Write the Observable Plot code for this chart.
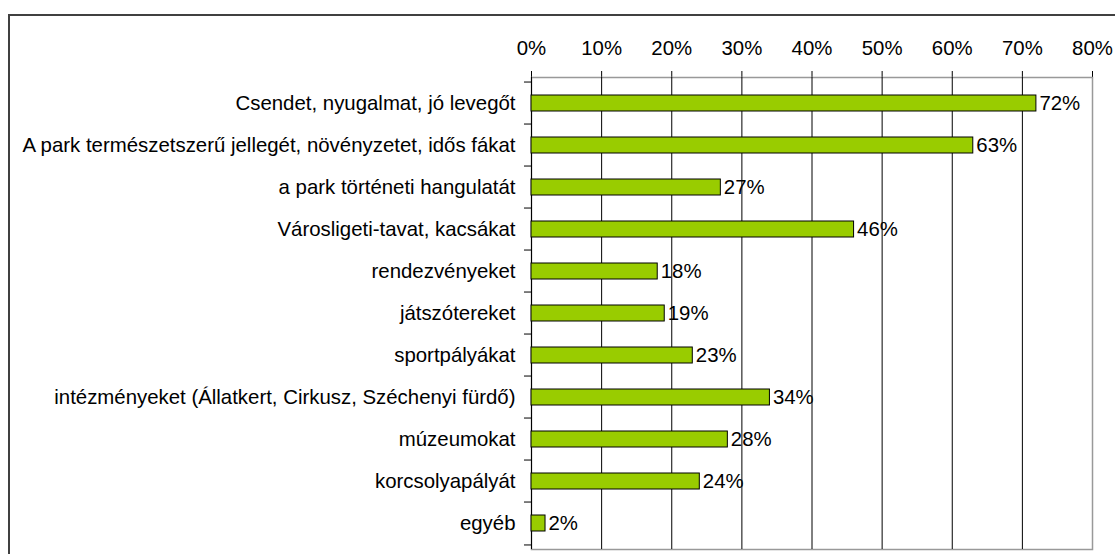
<!DOCTYPE html>
<html>
<head>
<meta charset="utf-8">
<script src="https://cdn.jsdelivr.net/npm/d3@7"></script>
<script src="https://cdn.jsdelivr.net/npm/@observablehq/plot@0.6"></script>
<style>
  html, body { margin: 0; padding: 0; background: #fff; overflow: hidden; width: 1115px; height: 554px; }
  #wrap { position: relative; width: 1115px; height: 554px; }
  #frame { position: absolute; left: 8px; top: 14px; width: 1200px; height: 700px;
           border-left: 2px solid #404040; border-top: 2px solid #404040; pointer-events: none; }
  #chart { position: absolute; left: 0; top: 0; }
  #chart svg text { font-size: 20.4px; }
</style>
</head>
<body>
<div id="wrap"><div id="frame"></div><div id="chart"></div></div>
<script>
const categories = [
  "Csendet, nyugalmat, jó levegőt",
  "A park természetszerű jellegét, növényzetet, idős fákat",
  "a park történeti hangulatát",
  "Városligeti-tavat, kacsákat",
  "rendezvényeket",
  "játszótereket",
  "sportpályákat",
  "intézményeket (Állatkert, Cirkusz, Széchenyi fürdő)",
  "múzeumokat",
  "korcsolyapályát",
  "egyéb"
];
const values = [72, 63, 27, 46, 18, 19, 23, 34, 28, 24, 2];
const xTicks = [0, 10, 20, 30, 40, 50, 60, 70, 80];
const gridTicks = [10, 20, 30, 40, 50, 60, 70];

const data = categories.map((c, i) => ({category: c, value: values[i]}));

const W = 1115, H = 554;
const mTop = 77, mBottom = 5, mLeft = 531, mRight = 23;
const step = (H - mTop - mBottom) / categories.length;

const chart = Plot.plot({
  width: W,
  height: H,
  marginTop: mTop,
  marginBottom: mBottom,
  marginLeft: mLeft,
  marginRight: mRight,
  style: {fontFamily: "'Liberation Sans', Arial, sans-serif", fontSize: "20px", color: "#000", background: "transparent", overflow: "visible"},
  x: {domain: [0, 80], axis: "top", ticks: xTicks, tickFormat: d => d + "%", tickSize: 7, tickPadding: 16, label: null, line: true},
  y: {domain: categories, padding: 0, tickSize: 0, tickPadding: 16, label: null},
  marks: [
    Plot.frame({stroke: "#999", strokeWidth: 1.5}),
    Plot.ruleX(gridTicks, {stroke: "#000", strokeWidth: 1}),
    Plot.ruleX([0], {stroke: "#000", strokeWidth: 1}),
    Plot.ruleY(categories, {y: d => d, x1: -1, x2: 0, dy: -step / 2, stroke: "#000"}),
    Plot.ruleY(categories.slice(-1), {y: d => d, x1: -1, x2: 0, dy: step / 2, stroke: "#000"}),
    Plot.barX(data, {x: "value", y: "category", fill: "#99cc00", stroke: "#000", strokeWidth: 1, insetTop: 13, insetBottom: 13}),
    Plot.text(data, {x: "value", y: "category", text: d => d.value + "%", textAnchor: "start", dx: 3, fill: "#000", fontSize: 20})
  ]
});
document.getElementById("chart").appendChild(chart);
</script>
</body>
</html>
